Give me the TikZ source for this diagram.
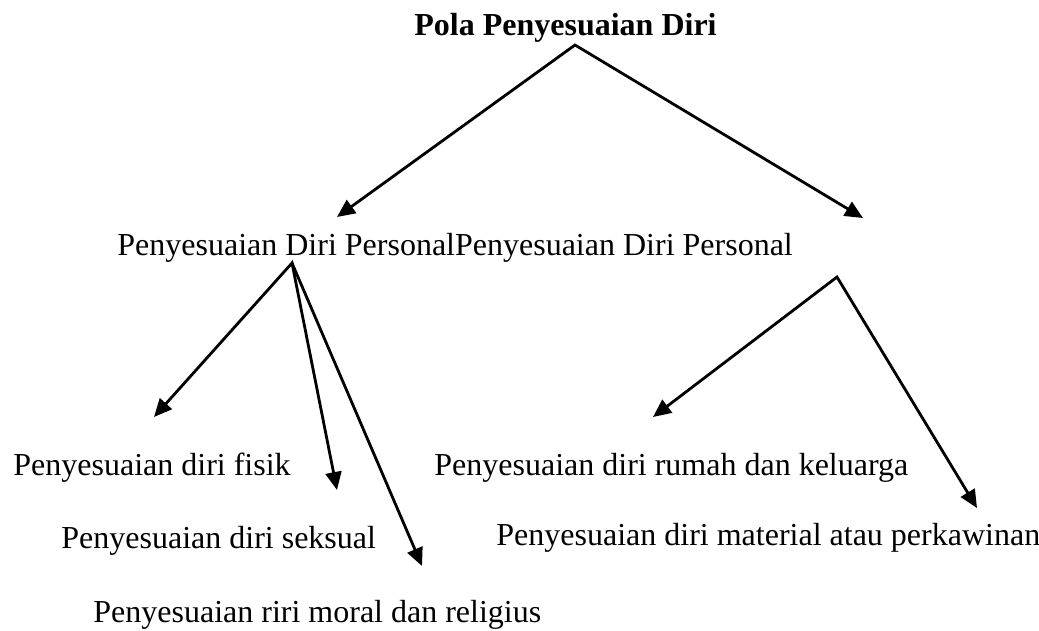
\documentclass[tikz,border=0pt]{standalone}
\usepackage{fontspec}
\setmainfont{Liberation Serif}
\usetikzlibrary{arrows.meta}

\begin{document}
\begin{tikzpicture}[x=1pt, y=-1pt, line width=2.8pt,
    every node/.style={anchor=base west, inner sep=0pt, font=\fontsize{32}{38}\selectfont},
    >={Triangle[length=18pt, width=16pt]}]
    \useasboundingbox (0,0) rectangle (1039,630);
    \node[font=\fontsize{32}{38}\selectfont\bfseries] (pola) at (413,35) {Pola Penyesuaian Diri};
    \node (pers) at (116,255) {Penyesuaian Diri PersonalPenyesuaian Diri Personal};
    \node (fisik) at (12,475) {Penyesuaian diri fisik};
    \node (seks) at (60,548) {Penyesuaian diri seksual};
    \node (moral) at (92,622) {Penyesuaian riri moral dan religius};
    \node (rumah) at (433,475) {Penyesuaian diri rumah dan keluarga};
    \node (mat) at (495,545) {Penyesuaian diri material atau perkawinan};
    % branch points and arrow ends
    \coordinate (p0) at (575,45);
    \coordinate (p1) at (292,263);
    \coordinate (p2) at (837,277);
    \coordinate (t1) at (337,217);
    \coordinate (t2) at (863,218);
    \coordinate (t3) at (154,417);
    \coordinate (t4) at (337,490);
    \coordinate (t5) at (422,566);
    \coordinate (t6) at (653,417);
    \coordinate (t7) at (977,508);
        \draw[<->] (t1) -- (p0) -- (t2);
        \draw[<->] (t3) -- (p1) -- (t4);
        \draw[->] (p1) -- (t5);
        \draw[<->] (t6) -- (p2) -- (t7);
\end{tikzpicture}
\end{document}
